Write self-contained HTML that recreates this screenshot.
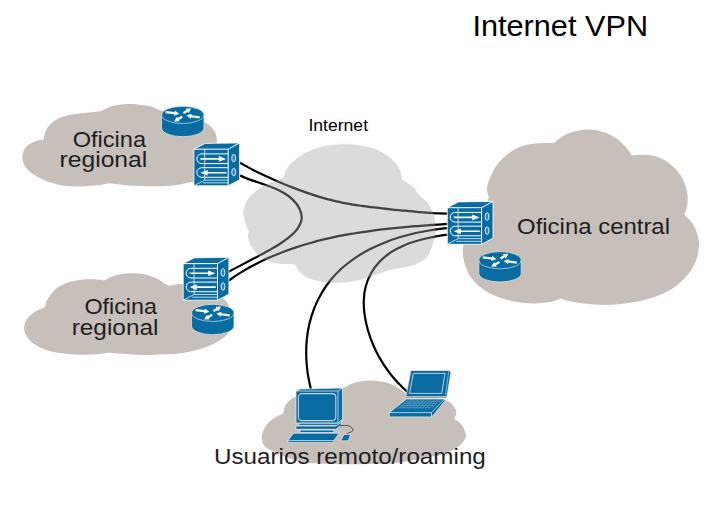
<!DOCTYPE html>
<html><head><meta charset="utf-8"><title>Internet VPN</title>
<style>
html,body{margin:0;padding:0;background:#fff;}
svg{display:block;}
text{font-family:"Liberation Sans",sans-serif;fill:#000;}
.lbl{fill:#1e1e1e;}
</style></head><body>
<svg width="720" height="509" viewBox="0 0 720 509">
<rect width="720" height="509" fill="#fff"/>
<path d="M43.5 139.5 C43.8 138.2 44.2 134.2 45.5 131.5 C46.8 128.8 48.5 125.8 51.0 123.5 C53.5 121.2 57.0 119.0 60.5 117.5 C64.0 116.0 68.1 115.2 72.0 114.5 C75.9 113.8 80.3 113.4 84.0 113.0 C87.7 112.6 91.2 112.3 94.0 112.0 C96.8 111.7 99.8 111.2 101.0 111.0 C102.2 110.4 105.2 108.5 108.0 107.5 C110.8 106.5 114.3 105.6 118.0 105.0 C121.7 104.4 126.0 104.0 130.0 104.0 C134.0 104.0 138.2 104.5 142.0 105.0 C145.8 105.5 149.3 106.1 152.5 107.0 C155.7 107.9 157.2 109.5 161.0 110.5 C164.8 111.5 170.2 112.0 175.0 113.0 C179.8 114.0 185.2 115.1 190.0 116.5 C194.8 117.9 200.0 119.6 203.7 121.5 C207.4 123.4 209.9 125.6 212.0 127.8 C214.1 130.0 215.2 132.1 216.0 134.8 C216.8 137.5 217.0 140.1 217.0 144.0 C217.0 147.9 215.2 153.7 216.0 158.0 C216.8 162.3 221.3 166.3 222.0 170.0 C222.7 173.7 222.8 178.2 220.0 180.0 C217.2 181.8 209.4 180.7 205.0 181.0 C200.6 181.3 198.0 181.0 193.3 181.7 C188.6 182.4 182.8 184.2 176.7 185.0 C170.6 185.8 164.2 186.2 156.7 186.3 C149.2 186.4 138.1 186.1 131.7 185.8 C125.2 185.5 121.6 184.7 118.0 184.3 C114.4 183.9 111.3 183.5 110.0 183.3 C108.3 183.6 103.3 184.6 100.0 185.0 C96.7 185.4 92.9 185.6 90.0 185.8 C87.1 186.1 85.8 186.4 82.5 186.5 C79.2 186.6 74.2 186.7 70.0 186.3 C65.8 186.0 61.7 185.4 57.5 184.4 C53.3 183.4 49.2 182.4 45.0 180.6 C40.8 178.8 35.8 176.2 32.5 173.8 C29.2 171.4 26.7 168.8 25.0 166.3 C23.3 163.8 22.7 161.5 22.5 158.8 C22.3 156.1 22.9 152.4 24.0 150.0 C25.1 147.6 27.0 146.0 29.0 144.5 C31.0 143.0 33.6 141.8 36.0 141.0 C38.4 140.2 42.2 139.8 43.5 139.5Z" fill="#c7bfba"/>
<path d="M45.2 306.9 C45.5 305.7 45.6 302.6 47.2 299.8 C48.8 297.0 52.3 292.4 54.6 290.0 C56.9 287.6 58.9 286.9 61.0 285.7 C63.1 284.5 63.6 283.7 67.1 282.7 C70.5 281.7 76.8 280.4 81.7 279.8 C86.6 279.2 92.5 279.3 96.3 279.4 C100.1 279.5 103.2 280.1 104.6 280.2 C106.3 279.4 110.8 276.5 115.0 275.4 C119.2 274.2 124.7 273.5 129.6 273.3 C134.5 273.1 139.7 273.3 144.2 274.2 C148.7 275.1 153.2 276.9 156.7 278.5 C160.2 280.1 162.9 282.6 165.0 283.8 C167.1 285.0 168.5 285.5 169.2 285.8 C171.0 285.5 175.7 284.0 180.0 284.0 C184.3 284.0 189.2 284.5 195.0 286.0 C200.8 287.5 209.8 290.5 215.0 293.0 C220.2 295.5 223.5 298.2 226.0 301.0 C228.5 303.8 229.0 306.5 230.0 310.0 C231.0 313.5 231.8 319.0 232.0 322.0 C232.2 325.0 232.0 325.7 231.0 328.0 C230.0 330.3 228.8 333.1 226.0 335.7 C223.2 338.3 218.9 341.3 214.3 343.6 C209.7 345.9 204.5 347.9 198.6 349.5 C192.7 351.1 185.4 352.6 178.9 353.4 C172.4 354.2 165.0 354.1 159.3 354.4 C153.7 354.7 149.9 355.0 145.0 355.0 C140.1 355.0 134.5 354.4 130.0 354.2 C125.5 353.9 121.4 353.8 117.8 353.5 C114.2 353.2 110.1 352.8 108.6 352.7 C106.6 352.9 101.0 353.9 96.4 354.2 C91.8 354.5 86.2 354.8 81.1 354.7 C76.0 354.6 70.9 354.4 65.8 353.8 C60.7 353.2 54.9 352.3 50.6 351.2 C46.3 350.1 43.2 349.0 39.9 347.4 C36.6 345.8 33.1 343.6 30.7 341.3 C28.3 339.0 26.4 336.2 25.3 333.6 C24.2 331.1 23.9 328.6 24.3 326.0 C24.7 323.4 25.8 320.7 27.6 318.3 C29.4 315.9 32.4 313.4 35.3 311.5 C38.2 309.6 43.6 307.7 45.2 306.9Z" fill="#c7bfba"/>
<path d="M553.7 143.2 C554.9 142.2 558.0 139.2 560.8 137.4 C563.6 135.6 567.1 133.7 570.6 132.5 C574.1 131.3 578.5 130.5 581.7 130.0 C584.9 129.5 587.0 129.4 590.0 129.6 C593.0 129.8 596.5 130.2 599.7 131.0 C602.9 131.8 606.1 132.8 609.4 134.4 C612.6 136.0 616.4 138.2 619.2 140.4 C622.0 142.6 624.3 145.4 626.1 147.4 C627.9 149.4 629.1 151.2 630.0 152.5 C630.9 153.8 631.4 154.9 631.7 155.4 C633.9 155.3 640.2 154.5 644.8 154.8 C649.3 155.2 654.5 155.8 659.0 157.5 C663.5 159.2 667.8 162.2 671.5 165.3 C675.2 168.4 678.5 172.1 681.0 176.0 C683.5 179.9 685.2 184.4 686.3 188.5 C687.4 192.6 687.8 196.9 687.7 200.6 C687.7 204.2 686.6 208.1 686.0 210.4 C685.4 212.7 684.3 213.7 684.0 214.3 C685.7 216.2 691.6 221.5 694.0 225.7 C696.4 229.9 697.8 235.6 698.5 239.5 C699.2 243.4 699.1 245.4 698.5 249.3 C697.9 253.2 697.1 258.4 695.0 263.0 C692.9 267.6 689.8 272.5 686.0 276.8 C682.2 281.1 677.5 285.2 672.3 288.6 C667.1 292.0 660.9 294.8 654.7 297.0 C648.5 299.2 641.5 300.8 635.0 302.0 C628.5 303.2 621.9 304.1 615.4 304.5 C608.9 304.9 601.6 304.8 595.7 304.5 C589.8 304.2 584.6 303.6 580.0 303.0 C575.4 302.4 571.2 301.8 568.0 301.0 C564.8 300.2 562.2 298.9 561.0 298.5 C559.0 299.1 553.9 301.2 549.3 302.0 C544.7 302.8 539.5 303.5 533.6 303.4 C527.7 303.3 520.4 302.7 513.9 301.4 C507.3 300.1 500.2 298.1 494.3 295.5 C488.4 292.9 482.9 289.3 478.6 285.7 C474.4 282.1 471.3 278.1 468.8 273.9 C466.3 269.6 464.8 264.4 463.8 260.2 C462.8 255.9 462.6 251.8 462.9 248.4 C463.2 245.0 463.6 243.9 465.6 240.0 C467.6 236.1 471.3 231.5 475.0 225.0 C478.7 218.5 486.0 206.9 488.0 200.9 C490.0 194.9 486.6 193.0 487.0 189.0 C487.4 185.0 488.5 181.3 490.4 177.0 C492.3 172.7 494.9 167.3 498.2 163.2 C501.5 159.1 505.7 155.3 510.0 152.4 C514.3 149.5 518.9 147.0 523.8 145.5 C528.7 144.0 534.5 143.6 539.5 143.2 C544.5 142.8 551.3 143.2 553.7 143.2Z" fill="#c7bfba"/>
<path d="M283.1 413.8 C283.4 412.6 283.9 408.6 285.0 406.3 C286.1 404.0 288.1 401.7 290.0 400.0 C291.9 398.3 294.3 397.5 296.3 396.3 C298.3 395.1 296.4 393.9 302.0 393.0 C307.6 392.1 325.3 391.3 330.0 391.0 C332.1 390.5 339.2 389.2 342.9 388.0 C346.6 386.8 348.7 384.7 352.0 383.5 C355.3 382.3 359.5 381.5 362.8 381.0 C366.1 380.5 368.4 380.3 372.0 380.5 C375.6 380.7 380.7 381.1 384.5 382.0 C388.3 382.9 391.9 384.5 395.0 386.0 C398.1 387.5 400.5 389.3 403.0 391.0 C405.5 392.7 408.8 395.2 410.0 396.0 C412.5 396.0 419.1 395.3 425.0 396.0 C430.9 396.7 440.5 398.2 445.4 400.0 C450.3 401.8 452.4 404.8 454.2 407.0 C456.0 409.2 456.3 411.3 456.3 413.2 C456.3 415.1 454.6 417.6 454.2 418.5 C455.5 419.7 460.3 423.0 462.2 425.6 C464.1 428.2 465.2 432.3 465.7 434.4 C466.2 436.5 466.1 436.4 465.4 438.0 C464.7 439.6 463.2 442.4 461.3 444.3 C459.4 446.2 456.7 447.8 453.8 449.3 C450.9 450.9 447.6 452.4 443.8 453.6 C440.1 454.9 436.5 455.7 431.3 456.8 C426.1 457.9 417.7 459.6 412.5 460.5 C407.3 461.4 404.1 461.9 400.0 462.4 C395.9 462.9 394.5 463.3 388.0 463.6 C381.5 463.9 368.8 464.1 360.8 464.2 C352.8 464.3 346.5 464.3 340.0 464.2 C333.5 464.1 327.5 464.1 321.7 463.8 C315.9 463.5 310.6 463.5 305.0 462.5 C299.4 461.5 293.2 459.6 288.3 457.9 C283.4 456.2 279.1 454.0 275.8 452.5 C272.5 451.0 270.5 450.2 268.5 449.0 C266.5 447.8 264.9 446.7 263.8 445.0 C262.7 443.3 262.0 441.1 261.9 438.8 C261.8 436.5 262.2 433.8 263.1 431.3 C264.0 428.8 265.5 426.1 267.5 423.8 C269.5 421.5 272.4 419.2 275.0 417.5 C277.6 415.8 281.8 414.4 283.1 413.8Z" fill="#c7bfba"/>
<path d="M248.9 231.5 C248.8 232.4 247.8 234.6 248.2 237.0 C248.6 239.4 249.8 243.1 251.3 246.0 C252.9 248.9 254.8 252.0 257.5 254.5 C260.2 257.0 263.8 259.2 267.5 260.8 C271.2 262.4 275.6 263.2 280.0 263.8 C284.4 264.4 291.1 264.1 293.8 264.5 C296.5 264.9 295.9 266.0 296.3 266.3 C296.9 267.3 297.7 270.4 300.0 272.5 C302.3 274.6 305.8 277.2 310.0 278.8 C314.2 280.4 319.6 281.4 325.0 282.0 C330.4 282.6 336.7 282.8 342.5 282.5 C348.3 282.2 354.6 281.2 360.0 280.0 C365.4 278.8 370.4 276.5 375.0 275.0 C379.6 273.5 384.2 271.9 387.5 270.8 C390.8 269.8 392.1 269.3 395.0 268.7 C397.9 268.1 401.7 268.0 405.0 267.3 C408.3 266.6 412.0 265.7 415.0 264.6 C418.0 263.5 420.8 262.1 423.0 260.6 C425.2 259.1 426.8 257.2 428.0 255.5 C429.2 253.8 429.6 252.7 430.5 250.4 C431.4 248.2 432.8 244.8 433.6 242.0 C434.4 239.2 435.1 236.8 435.4 233.9 C435.7 231.0 435.6 227.2 435.4 224.5 C435.2 221.8 435.0 219.8 434.4 217.4 C433.8 215.0 433.1 212.9 431.9 210.3 C430.7 207.7 429.2 204.6 427.0 202.0 C424.8 199.4 421.3 197.6 418.9 195.0 C416.5 192.4 415.3 188.8 412.5 186.3 C409.7 183.8 403.8 181.1 402.0 180.0 C401.7 178.3 401.4 173.1 400.0 170.0 C398.6 166.9 396.7 164.2 393.8 161.3 C390.9 158.4 386.5 154.8 382.5 152.5 C378.5 150.2 375.0 148.8 370.0 147.5 C365.0 146.2 358.8 144.9 352.5 144.5 C346.2 144.1 338.8 144.3 332.5 145.0 C326.2 145.7 320.4 146.9 315.0 148.8 C309.6 150.7 304.6 153.2 300.0 156.3 C295.4 159.4 290.3 163.8 287.5 167.5 C284.7 171.2 283.9 176.7 283.2 178.5 C280.7 179.3 272.6 181.6 268.4 183.4 C264.2 185.2 261.4 186.8 258.0 189.5 C254.6 192.2 250.1 195.8 247.7 199.5 C245.3 203.2 243.8 207.8 243.4 211.5 C243.0 215.2 244.1 218.7 245.0 222.0 C245.9 225.3 248.2 229.9 248.9 231.5Z" fill="#dcdcdc"/>
<g fill="none" stroke="#000" stroke-width="2.2" stroke-linecap="butt">
<path d="M240.0 162.8 C242.1 163.9 248.4 167.5 252.7 169.7 C256.9 171.9 261.3 174.0 265.6 176.1 C270.0 178.1 274.4 180.1 278.8 182.0 C283.3 183.8 287.7 185.7 292.2 187.4 C296.7 189.1 301.3 190.8 305.8 192.4 C310.3 194.0 314.9 195.5 319.5 196.9 C324.1 198.2 328.8 199.5 333.4 200.6 C338.1 201.8 342.8 202.7 347.5 203.6 C352.2 204.5 357.0 205.2 361.7 205.9 C366.5 206.6 371.3 207.1 376.0 207.7 C380.8 208.3 385.6 208.8 390.4 209.3 C395.2 209.8 400.0 210.3 404.8 210.7 C409.6 211.2 414.4 211.7 419.2 212.1 C424.0 212.4 428.8 212.8 433.6 213.1 C438.4 213.3 445.6 213.5 448.0 213.6"/>
<path d="M240.0 175.5 C241.7 176.2 246.4 178.3 249.9 179.6 C253.4 180.9 257.3 182.1 261.1 183.4 C264.9 184.7 268.9 186.0 272.6 187.6 C276.3 189.1 280.1 190.8 283.5 192.8 C286.9 194.8 290.1 197.0 292.8 199.6 C295.5 202.3 298.0 205.5 299.5 208.8 C301.0 212.0 302.0 215.8 301.6 219.2 C301.2 222.6 299.4 226.0 297.2 229.1 C295.0 232.2 291.6 235.1 288.5 237.7 C285.4 240.3 281.9 242.6 278.6 244.7 C275.3 246.9 272.0 248.6 268.7 250.5 C265.4 252.4 262.1 254.1 258.7 255.9 C255.4 257.7 252.0 259.5 248.6 261.2 C245.2 263.0 241.8 264.8 238.3 266.6 C234.9 268.4 229.7 271.1 228.0 272.0"/>
<path d="M228.0 281.0 C230.2 279.6 236.6 275.1 241.0 272.4 C245.4 269.7 249.9 267.2 254.5 264.8 C259.0 262.4 263.6 260.2 268.2 258.1 C272.9 256.0 277.6 254.0 282.3 252.2 C287.0 250.4 291.8 248.7 296.7 247.1 C301.5 245.5 306.4 244.0 311.3 242.7 C316.2 241.3 321.1 240.1 326.1 238.9 C331.1 237.8 336.1 236.7 341.1 235.7 C346.1 234.7 351.2 233.9 356.2 233.0 C361.3 232.2 366.4 231.5 371.5 230.8 C376.6 230.1 381.7 229.5 386.8 228.9 C391.9 228.4 397.0 227.9 402.1 227.4 C407.2 226.9 412.4 226.5 417.5 226.1 C422.6 225.7 427.7 225.3 432.8 224.9 C437.9 224.6 445.5 224.1 448.0 223.9"/>
<path d="M310.9 389.5 C310.4 386.8 308.5 378.9 307.7 373.4 C307.0 368.0 306.4 362.5 306.3 357.0 C306.1 351.5 306.2 345.9 306.7 340.4 C307.2 335.0 308.1 329.5 309.3 324.1 C310.6 318.8 312.2 313.4 314.2 308.3 C316.2 303.2 318.6 298.2 321.4 293.5 C324.1 288.8 327.2 284.2 330.6 280.0 C334.0 275.8 337.8 271.9 341.8 268.3 C345.8 264.7 350.1 261.3 354.6 258.3 C359.1 255.2 363.8 252.4 368.7 249.8 C373.6 247.2 378.7 244.9 383.8 242.9 C389.0 240.8 394.3 238.9 399.6 237.3 C405.0 235.7 410.4 234.3 415.8 233.0 C421.2 231.8 426.7 230.8 432.0 230.0 C437.4 229.1 445.3 228.3 448.0 228.0"/>
<path d="M408.0 392.4 C406.2 390.7 400.7 385.8 397.4 382.2 C394.1 378.7 390.9 374.8 388.0 370.9 C385.1 366.9 382.3 362.7 379.9 358.4 C377.4 354.1 375.2 349.6 373.2 345.0 C371.2 340.4 369.5 335.6 368.1 330.8 C366.7 325.9 365.5 320.9 364.8 315.9 C364.0 310.9 363.6 305.8 363.8 300.9 C363.9 296.0 364.4 291.1 365.7 286.5 C366.9 281.8 368.7 277.3 371.1 273.2 C373.4 269.0 376.4 265.1 379.7 261.6 C383.1 258.1 387.0 254.9 391.1 252.2 C395.2 249.4 399.8 247.2 404.4 245.2 C409.1 243.2 414.1 241.6 419.0 240.3 C423.8 238.9 428.9 237.8 433.8 236.9 C438.6 235.9 445.6 234.9 448.0 234.5"/>
</g>
<path d="M248.9 231.5 C248.8 232.4 247.8 234.6 248.2 237.0 C248.6 239.4 249.8 243.1 251.3 246.0 C252.9 248.9 254.8 252.0 257.5 254.5 C260.2 257.0 263.8 259.2 267.5 260.8 C271.2 262.4 275.6 263.2 280.0 263.8 C284.4 264.4 291.1 264.1 293.8 264.5 C296.5 264.9 295.9 266.0 296.3 266.3 C296.9 267.3 297.7 270.4 300.0 272.5 C302.3 274.6 305.8 277.2 310.0 278.8 C314.2 280.4 319.6 281.4 325.0 282.0 C330.4 282.6 336.7 282.8 342.5 282.5 C348.3 282.2 354.6 281.2 360.0 280.0 C365.4 278.8 370.4 276.5 375.0 275.0 C379.6 273.5 384.2 271.9 387.5 270.8 C390.8 269.8 392.1 269.3 395.0 268.7 C397.9 268.1 401.7 268.0 405.0 267.3 C408.3 266.6 412.0 265.7 415.0 264.6 C418.0 263.5 420.8 262.1 423.0 260.6 C425.2 259.1 426.8 257.2 428.0 255.5 C429.2 253.8 429.6 252.7 430.5 250.4 C431.4 248.2 432.8 244.8 433.6 242.0 C434.4 239.2 435.1 236.8 435.4 233.9 C435.7 231.0 435.6 227.2 435.4 224.5 C435.2 221.8 435.0 219.8 434.4 217.4 C433.8 215.0 433.1 212.9 431.9 210.3 C430.7 207.7 429.2 204.6 427.0 202.0 C424.8 199.4 421.3 197.6 418.9 195.0 C416.5 192.4 415.3 188.8 412.5 186.3 C409.7 183.8 403.8 181.1 402.0 180.0 C401.7 178.3 401.4 173.1 400.0 170.0 C398.6 166.9 396.7 164.2 393.8 161.3 C390.9 158.4 386.5 154.8 382.5 152.5 C378.5 150.2 375.0 148.8 370.0 147.5 C365.0 146.2 358.8 144.9 352.5 144.5 C346.2 144.1 338.8 144.3 332.5 145.0 C326.2 145.7 320.4 146.9 315.0 148.8 C309.6 150.7 304.6 153.2 300.0 156.3 C295.4 159.4 290.3 163.8 287.5 167.5 C284.7 171.2 283.9 176.7 283.2 178.5 C280.7 179.3 272.6 181.6 268.4 183.4 C264.2 185.2 261.4 186.8 258.0 189.5 C254.6 192.2 250.1 195.8 247.7 199.5 C245.3 203.2 243.8 207.8 243.4 211.5 C243.0 215.2 244.1 218.7 245.0 222.0 C245.9 225.3 248.2 229.9 248.9 231.5Z" fill="#dcdcdc" fill-opacity="0.3"/>
<g transform="translate(161.6 106.3)">
<path d="M0 8.6 A21.2 8.6 0 0 1 42.4 8.6 V21.8 A21.2 8.6 0 0 1 0 21.8Z" fill="#086ca3" stroke="#e9e2da" stroke-width="0.8"/>
<path d="M0 8.6 A21.2 8.6 0 0 0 42.4 8.6" fill="none" stroke="#b5d3e6" stroke-width="0.8"/>
<polygon points="3.9,6.9 12.8,8.0 12.6,9.5 17.7,7.5 13.3,4.3 13.1,5.8 4.1,4.7" fill="#fff"/>
<polygon points="22.4,7.8 26.1,5.6 26.8,6.9 29.6,2.2 24.1,2.5 24.9,3.7 21.2,6.0" fill="#fff"/>
<polygon points="38.1,10.0 29.7,8.9 29.9,7.4 24.8,9.3 29.2,12.5 29.4,11.0 37.9,12.2" fill="#fff"/>
<polygon points="20.1,9.5 16.1,11.8 15.4,10.5 12.5,15.1 18.0,15.0 17.2,13.7 21.1,11.5" fill="#fff"/>
</g>
<g transform="translate(193.9 149.2)" stroke-linejoin="round">
<path d="M0 0 L11.2 -5.8 L45.7 -6.3 L45.7 30.5 L34.3 36.6 L0 36.6Z" fill="#086ca3" stroke="#fff" stroke-width="0.8"/>
<path d="M0 0 H34.3 V36.6 M34.3 0 L45.7 -6.3" fill="none" stroke="#fff" stroke-width="1"/>
<path d="M10.8 0 V30.9 H34.3 M0 36.6 L10.8 30.9 M9 33.6 H34.3" fill="none" stroke="#eef4f8" stroke-width="0.8"/>
<path d="M34.3 4.7 H7.8 a4.85 4.85 0 0 0 0 9.7 H34.3 M34.3 18.5 H7.8 a4.8 4.8 0 0 0 0 9.6 H34.3" fill="none" stroke="#fff" stroke-width="1"/>
<path d="M6.5 8.9 H25 V6.9 L32.2 9.7 L25 12.5 V10.5 H6.5Z" fill="#fff"/>
<path d="M32.5 22.7 H13.7 V20.7 L6.5 23.5 L13.7 26.3 V24.3 H32.5Z" fill="#fff"/>
<ellipse cx="39.8" cy="8.9" rx="1.9" ry="3.8" fill="#2f83b3" stroke="#e4eff6" stroke-width="1"/>
<ellipse cx="39.8" cy="22.9" rx="1.9" ry="3.8" fill="#2f83b3" stroke="#e4eff6" stroke-width="1"/>
</g>
<g transform="translate(183.2 263.6)" stroke-linejoin="round">
<path d="M0 0 L11.2 -5.8 L45.7 -6.3 L45.7 30.5 L34.3 36.6 L0 36.6Z" fill="#086ca3" stroke="#fff" stroke-width="0.8"/>
<path d="M0 0 H34.3 V36.6 M34.3 0 L45.7 -6.3" fill="none" stroke="#fff" stroke-width="1"/>
<path d="M10.8 0 V30.9 H34.3 M0 36.6 L10.8 30.9 M9 33.6 H34.3" fill="none" stroke="#eef4f8" stroke-width="0.8"/>
<path d="M34.3 4.7 H7.8 a4.85 4.85 0 0 0 0 9.7 H34.3 M34.3 18.5 H7.8 a4.8 4.8 0 0 0 0 9.6 H34.3" fill="none" stroke="#fff" stroke-width="1"/>
<path d="M6.5 8.9 H25 V6.9 L32.2 9.7 L25 12.5 V10.5 H6.5Z" fill="#fff"/>
<path d="M32.5 22.7 H13.7 V20.7 L6.5 23.5 L13.7 26.3 V24.3 H32.5Z" fill="#fff"/>
<ellipse cx="39.8" cy="8.9" rx="1.9" ry="3.8" fill="#2f83b3" stroke="#e4eff6" stroke-width="1"/>
<ellipse cx="39.8" cy="22.9" rx="1.9" ry="3.8" fill="#2f83b3" stroke="#e4eff6" stroke-width="1"/>
</g>
<g transform="translate(191.6 304.3)">
<path d="M0 8.6 A21.2 8.6 0 0 1 42.4 8.6 V21.8 A21.2 8.6 0 0 1 0 21.8Z" fill="#086ca3" stroke="#e9e2da" stroke-width="0.8"/>
<path d="M0 8.6 A21.2 8.6 0 0 0 42.4 8.6" fill="none" stroke="#b5d3e6" stroke-width="0.8"/>
<polygon points="3.9,6.9 12.8,8.0 12.6,9.5 17.7,7.5 13.3,4.3 13.1,5.8 4.1,4.7" fill="#fff"/>
<polygon points="22.4,7.8 26.1,5.6 26.8,6.9 29.6,2.2 24.1,2.5 24.9,3.7 21.2,6.0" fill="#fff"/>
<polygon points="38.1,10.0 29.7,8.9 29.9,7.4 24.8,9.3 29.2,12.5 29.4,11.0 37.9,12.2" fill="#fff"/>
<polygon points="20.1,9.5 16.1,11.8 15.4,10.5 12.5,15.1 18.0,15.0 17.2,13.7 21.1,11.5" fill="#fff"/>
</g>
<g transform="translate(447.3 207.7)" stroke-linejoin="round">
<path d="M0 0 L11.2 -5.8 L45.7 -6.3 L45.7 30.5 L34.3 36.6 L0 36.6Z" fill="#086ca3" stroke="#fff" stroke-width="0.8"/>
<path d="M0 0 H34.3 V36.6 M34.3 0 L45.7 -6.3" fill="none" stroke="#fff" stroke-width="1"/>
<path d="M10.8 0 V30.9 H34.3 M0 36.6 L10.8 30.9 M9 33.6 H34.3" fill="none" stroke="#eef4f8" stroke-width="0.8"/>
<path d="M34.3 4.7 H7.8 a4.85 4.85 0 0 0 0 9.7 H34.3 M34.3 18.5 H7.8 a4.8 4.8 0 0 0 0 9.6 H34.3" fill="none" stroke="#fff" stroke-width="1"/>
<path d="M6.5 8.9 H25 V6.9 L32.2 9.7 L25 12.5 V10.5 H6.5Z" fill="#fff"/>
<path d="M32.5 22.7 H13.7 V20.7 L6.5 23.5 L13.7 26.3 V24.3 H32.5Z" fill="#fff"/>
<ellipse cx="39.8" cy="8.9" rx="1.9" ry="3.8" fill="#2f83b3" stroke="#e4eff6" stroke-width="1"/>
<ellipse cx="39.8" cy="22.9" rx="1.9" ry="3.8" fill="#2f83b3" stroke="#e4eff6" stroke-width="1"/>
</g>
<g transform="translate(478.8 251.6)">
<path d="M0 8.6 A21.2 8.6 0 0 1 42.4 8.6 V21.8 A21.2 8.6 0 0 1 0 21.8Z" fill="#086ca3" stroke="#e9e2da" stroke-width="0.8"/>
<path d="M0 8.6 A21.2 8.6 0 0 0 42.4 8.6" fill="none" stroke="#b5d3e6" stroke-width="0.8"/>
<polygon points="3.9,6.9 12.8,8.0 12.6,9.5 17.7,7.5 13.3,4.3 13.1,5.8 4.1,4.7" fill="#fff"/>
<polygon points="22.4,7.8 26.1,5.6 26.8,6.9 29.6,2.2 24.1,2.5 24.9,3.7 21.2,6.0" fill="#fff"/>
<polygon points="38.1,10.0 29.7,8.9 29.9,7.4 24.8,9.3 29.2,12.5 29.4,11.0 37.9,12.2" fill="#fff"/>
<polygon points="20.1,9.5 16.1,11.8 15.4,10.5 12.5,15.1 18.0,15.0 17.2,13.7 21.1,11.5" fill="#fff"/>
</g>
<g transform="translate(296.0 391.0)" stroke="#f3efea" stroke-width="0.7" stroke-linejoin="round" fill="#086ca3">
<path d="M0 0 L4.8 -2 L46.5 -3 V28.3 L42 32 H0Z"/>
<path d="M0 0 H42 V32 M42 0 L46.5 -3" fill="none"/>
<rect x="2.4" y="2.6" width="37.4" height="27" rx="3.5" fill="#086ca3" stroke="#bcd6e6" stroke-width="1.1"/>
<path d="M2.8 32.3 H42 L45.8 29 V31 L42 34.4 H2.8Z"/>
<path d="M0 35 H39.9 L45.4 31.4 V34 L39.9 38.3 H0Z"/>
<path d="M4 39.1 H37.8 V41.6 H4Z"/>
<path d="M-2.5 42.2 H43.3 L37.8 49.5 V51.4 H-8 V49.5Z"/>
<path d="M-8 49.5 H37.8" fill="none"/>
<path d="M48.1 43.5 H54.5 L52.4 49.8 H44.5Z"/>
<path d="M44 35 C50 33.5 56 34.5 57 39.2 C57 41 52 41.5 50.9 43.3" fill="none" stroke="#3a3a3a" stroke-width="0.9"/>
</g>
<g transform="translate(410.9 370.5)" stroke="#f3efea" stroke-width="0.7" stroke-linejoin="round" fill="#086ca3">
<path d="M-4.6 27 H35.6" fill="none" stroke="#9d9189" stroke-width="1"/>
<path d="M0 0 H38 L40.1 1.6 L36 26.2 H-4.9 L-4.8 25Z"/>
<path d="M38 0 L34.6 24.6" fill="none" stroke="#cfe0ec" stroke-width="0.6"/>
<path d="M2.5 2.9 H34.2 L30.7 22.9 H-1.4Z" fill="none" stroke="#c7dcea" stroke-width="0.9"/>
<path d="M-4.3 28.5 H33.6 L34.2 30.3 L21.2 46 L20.6 46.4 H-21.6 V42.1Z"/>
<path d="M-4.3 28.5 H33.6 L20.6 42.1 H-21.6Z"/>
<path d="M20.6 42.1 V46.4" fill="none"/>
<path d="M-4.1 30.7 h32.9 M-6.8 32.9 h32.9 M-9.6 35.0 h32.9 M-12.4 37.2 h32.9 M-2.5 29.6 L-13.0 38.0 M0.7 29.6 L-9.6 38.0 M3.9 29.6 L-6.2 38.0 M7.1 29.6 L-2.8 38.0 M10.3 29.6 L0.6 38.0 M13.4 29.6 L4.0 38.0 M16.6 29.6 L7.5 38.0 M19.8 29.6 L10.9 38.0 M23.0 29.6 L14.3 38.0 M26.2 29.6 L17.7 38.0 M29.4 29.6 L21.1 38.0" fill="none" stroke="#7fb2d2" stroke-width="0.5"/>
</g>
<text id="t0"  x="472.45" y="35.6" font-size="29.6" textLength="175.61" lengthAdjust="spacingAndGlyphs">Internet VPN</text>
<text id="t1"  x="308.40" y="131.1" font-size="16.6" textLength="59.66" lengthAdjust="spacingAndGlyphs">Internet</text>
<text id="t2" class="lbl" x="72.75" y="146.9" font-size="22.0" textLength="73.26" lengthAdjust="spacingAndGlyphs">Oficina</text>
<text id="t3" class="lbl" x="59.50" y="167.0" font-size="22.0" textLength="87.78" lengthAdjust="spacingAndGlyphs">regional</text>
<text id="t4" class="lbl" x="84.40" y="314.3" font-size="22.0" textLength="72.47" lengthAdjust="spacingAndGlyphs">Oficina</text>
<text id="t5" class="lbl" x="71.70" y="334.5" font-size="22.0" textLength="86.78" lengthAdjust="spacingAndGlyphs">regional</text>
<text id="t6" class="lbl" x="517.05" y="233.9" font-size="22.0" textLength="152.95" lengthAdjust="spacingAndGlyphs">Oficina central</text>
<text id="t7" class="lbl" x="213.95" y="463.5" font-size="22.0" textLength="271.89" lengthAdjust="spacingAndGlyphs">Usuarios remoto/roaming</text>
</svg></body></html>
